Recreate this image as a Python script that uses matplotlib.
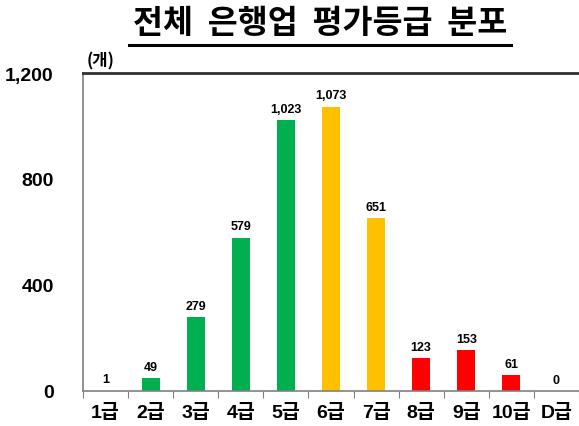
import matplotlib
matplotlib.use("Agg")
import matplotlib.pyplot as plt
from matplotlib.lines import Line2D

plt.rcParams['font.family'] = ['Liberation Sans', 'Noto Sans CJK KR', 'DejaVu Sans']

categories = ['1급', '2급', '3급', '4급', '5급', '6급', '7급', '8급', '9급', '10급', 'D급']
values = [1, 49, 279, 579, 1023, 1073, 651, 123, 153, 61, 0]
colors = ['#00B050'] * 5 + ['#FFC000'] * 2 + ['#FF0000'] * 4
yticks = [0, 400, 800, 1200]
ytick_labels = ['0', '400', '800', '1,200']
title = '전체  은행업  평가등급  분포'
unit = '(개)'

W, H = 579, 427
fig = plt.figure(figsize=(W / 100, H / 100), dpi=100)
ax = fig.add_axes([83 / W, 1 - 392 / H, (W - 83) / W, (392 - 74) / H])

x = list(range(len(categories)))
ax.bar(x, values, width=0.4, color=colors, zorder=2)
for xi, v in zip(x, values):
    ax.text(xi, v + 20, f'{v:,}', ha='center', va='bottom', fontsize=9,
            fontweight='heavy', color='black')

ax.set_xlim(-0.5, len(categories) - 0.5)
ax.set_ylim(0, 1200)
ax.set_yticks(yticks)
ax.set_yticklabels(ytick_labels, fontsize=14, fontweight='heavy')
ax.tick_params(axis='y', length=0, pad=21)

ax.set_xticks([i - 0.5 for i in range(len(categories) + 1)])
ax.set_xticklabels([])
ax.set_xticks(x, minor=True)
ax.set_xticklabels(categories, minor=True, fontsize=14, fontweight='heavy',
                   family=['Liberation Sans', 'Noto Sans CJK KR'])
ax.tick_params(axis='x', which='major', length=5, color='#808080', direction='out')
ax.tick_params(axis='x', which='minor', length=0, pad=9)

for s in ['left', 'bottom']:
    ax.spines[s].set_color('#808080')
    ax.spines[s].set_linewidth(1.2)
ax.spines['right'].set_visible(False)
ax.spines['top'].set_color('#303030')
ax.spines['top'].set_linewidth(2)

fig.text(320 / W, 1 - 23 / H, title, ha='center', va='center', fontsize=23.5,
         fontweight='bold', family=['Noto Sans CJK KR'])
fig.add_artist(Line2D([129 / W, 511 / W], [1 - 45.5 / H, 1 - 45.5 / H],
                      color='black', lw=2.2, transform=fig.transFigure))
fig.text(101 / W, 1 - 61 / H, unit, ha='center', va='center', fontsize=12,
         fontweight='heavy', family=['Noto Sans CJK KR'])

fig.savefig('out.png', dpi=100)
